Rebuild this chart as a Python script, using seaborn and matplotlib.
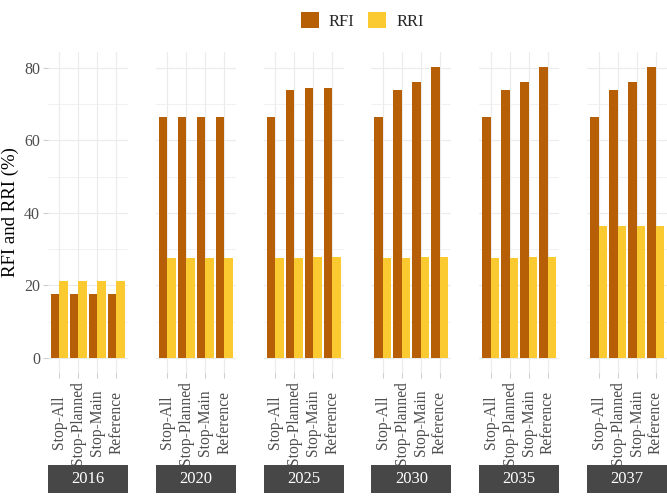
import numpy as np
import pandas as pd
import matplotlib
matplotlib.use("Agg")
import matplotlib.pyplot as plt
from matplotlib.patches import Patch, Rectangle
from matplotlib.ticker import MultipleLocator
import seaborn as sns

years = ["2016", "2020", "2025", "2030", "2035", "2037"]
scenarios = ["Stop-All", "Stop-Planned", "Stop-Main", "Reference"]
indices = ["RFI", "RRI"]

rfi_2016 = [17.5, 17.5, 17.5, 17.5]
rri_2016 = [21.3, 21.3, 21.3, 21.3]
rfi_2020 = [66.5, 66.5, 66.5, 66.5]
rri_2020 = [27.6, 27.6, 27.6, 27.6]
rfi_2025 = [66.5, 74.0, 74.4, 74.4]
rri_2025 = [27.6, 27.6, 27.8, 27.8]
rfi_2030 = [66.5, 74.0, 76.2, 80.3]
rri_2030 = [27.6, 27.6, 27.8, 27.8]
rfi_2035 = [66.5, 74.0, 76.2, 80.3]
rri_2035 = [27.6, 27.6, 27.8, 27.8]
rfi_2037 = [66.5, 74.0, 76.2, 80.3]
rri_2037 = [36.4, 36.5, 36.5, 36.4]

rfi_by_year = [rfi_2016, rfi_2020, rfi_2025, rfi_2030, rfi_2035, rfi_2037]
rri_by_year = [rri_2016, rri_2020, rri_2025, rri_2030, rri_2035, rri_2037]

colors = {"RFI": "#B65F06", "RRI": "#FBCA30"}

rows = []
for year, rfi, rri in zip(years, rfi_by_year, rri_by_year):
    for sc, a, b in zip(scenarios, rfi, rri):
        rows.append({"Year": year, "Scenario": sc, "Index": "RFI", "Value": a})
        rows.append({"Year": year, "Scenario": sc, "Index": "RRI", "Value": b})
data = pd.DataFrame(rows)

sns.set_theme(style="white")
plt.rcParams["font.family"] = ["Liberation Serif", "DejaVu Serif"]

fig, axes = plt.subplots(1, 6, figsize=(6.67, 4.96), dpi=100, sharey=True)
fig.subplots_adjust(left=48/667, right=1.0, top=1-52/496, bottom=1-372/496, wspace=0.35)

for i, (ax, year) in enumerate(zip(axes, years)):
    sub = data[data["Year"] == year]
    sns.barplot(data=sub, x="Scenario", y="Value", hue="Index", order=scenarios,
                hue_order=indices, palette=colors, width=0.9, saturation=1,
                errorbar=None, linewidth=0, legend=False, ax=ax)
    ax.set_ylim(-3.9, 84.4)
    ax.set_xlim(-0.6, 3.6)
    ax.yaxis.set_major_locator(MultipleLocator(20))
    ax.yaxis.set_minor_locator(MultipleLocator(10))
    ax.set_axisbelow(True)
    ax.grid(True, which="major", color="#EBEBEB", linewidth=0.8)
    ax.grid(True, which="minor", axis="y", color="#EBEBEB", linewidth=0.5)
    for s in ax.spines.values():
        s.set_visible(False)
    ax.set_xlabel("")
    ax.set_ylabel("")
    ax.tick_params(axis="x", which="major", length=4, width=0.8, color="#D0D0D0",
                   pad=32.5, labelsize=11.2, labelcolor="#4D4D4D", bottom=True)
    ax.tick_params(axis="y", which="major", length=3.6, width=0.8, color="#D0D0D0",
                   pad=2, labelsize=11.5, labelcolor="#4D4D4D", left=(i == 0))
    ax.tick_params(axis="y", which="minor", left=False)
    for lab in ax.get_xticklabels():
        lab.set_rotation(90)
        lab.set_va("center")
        lab.set_ha("center")
    ax.add_patch(Rectangle((0, -0.378), 1, 0.088, transform=ax.transAxes,
                           clip_on=False, facecolor="#474747", edgecolor="none"))
    ax.text(0.5, -0.334, year, transform=ax.transAxes, ha="center", va="center",
            color="white", fontsize=12)

axes[0].set_ylabel("RFI and RRI (%)", fontsize=13.5, color="black")

handles = [Patch(facecolor=colors[k], edgecolor="none") for k in indices]
fig.legend(handles, indices, loc="center", bbox_to_anchor=(0.543, 0.958), ncol=2,
           frameon=False, handlelength=1.1, handleheight=1.1, columnspacing=0.8,
           handletextpad=0.6, fontsize=12)

plt.savefig("out.png", dpi=100)
